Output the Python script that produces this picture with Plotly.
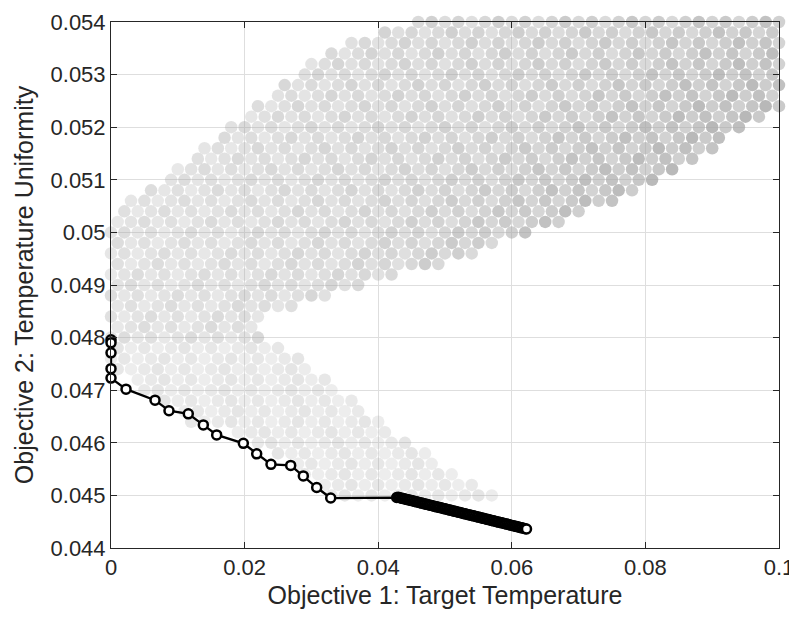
import plotly.graph_objects as go

# ---------------- data ----------------
# Pareto front (black line with open circles)
front_x = [0.0, 0.0, 0.0, 0.0, 0.0,
           0.00225, 0.00659, 0.00868, 0.01157, 0.01382, 0.01582, 0.01981, 0.02181,
           0.02395, 0.02690, 0.02879, 0.03079, 0.03289, 0.04277,
           0.04300, 0.04325, 0.04350, 0.04375, 0.04400, 0.04425, 0.04450, 0.04475,
           0.04500, 0.04525, 0.04550, 0.04575, 0.04600, 0.04625, 0.04650, 0.04675,
           0.04700, 0.04725, 0.04750, 0.04775, 0.04800, 0.04825, 0.04850, 0.04875,
           0.04900, 0.04925, 0.04950, 0.04975, 0.05000, 0.05025, 0.05050, 0.05075,
           0.05100, 0.05125, 0.05150, 0.05175, 0.05200, 0.05225, 0.05250, 0.05275,
           0.05300, 0.05325, 0.05350, 0.05375, 0.05400, 0.05425, 0.05450, 0.05475,
           0.05500, 0.05525, 0.05550, 0.05575, 0.05600, 0.05625, 0.05650, 0.05675,
           0.05700, 0.05725, 0.05750, 0.05775, 0.05800, 0.05825, 0.05850, 0.05875,
           0.05900, 0.05925, 0.05950, 0.05975, 0.06000, 0.06025, 0.06050, 0.06075,
           0.06100, 0.06125, 0.06150, 0.06175, 0.06200, 0.06220]
front_y = [0.04796, 0.04790, 0.04771, 0.04741, 0.04723,
           0.04702, 0.04681, 0.04661, 0.04655, 0.04634, 0.04615, 0.04599, 0.04579,
           0.04559, 0.04557, 0.04537, 0.04515, 0.04495, 0.04496,
           0.044964, 0.044956, 0.044948, 0.044940, 0.044932, 0.044924, 0.044917, 0.044909,
           0.044901, 0.044893, 0.044885, 0.044877, 0.044870, 0.044862, 0.044854, 0.044846,
           0.044838, 0.044830, 0.044823, 0.044815, 0.044807, 0.044799, 0.044791, 0.044783,
           0.044776, 0.044768, 0.044760, 0.044752, 0.044744, 0.044736, 0.044728, 0.044721,
           0.044713, 0.044705, 0.044697, 0.044689, 0.044681, 0.044674, 0.044666, 0.044658,
           0.044650, 0.044642, 0.044634, 0.044627, 0.044619, 0.044611, 0.044603, 0.044595,
           0.044587, 0.044580, 0.044572, 0.044564, 0.044556, 0.044548, 0.044540, 0.044532,
           0.044525, 0.044517, 0.044509, 0.044501, 0.044493, 0.044485, 0.044478, 0.044470,
           0.044462, 0.044454, 0.044446, 0.044438, 0.044430, 0.044423, 0.044415, 0.044407,
           0.044399, 0.044391, 0.044383, 0.044376, 0.044368, 0.044362]

# Population cloud, read row by row (y value of each row, x positions in units of 1e-3)
cloud_row_y = [0.0540, 0.0538, 0.0536, 0.0534, 0.0532, 0.0530, 0.0528, 0.0526, 0.0524, 0.0522,
               0.0520, 0.0518, 0.0516, 0.0514, 0.0512, 0.0510, 0.0508, 0.0506, 0.0504, 0.0502,
               0.0500, 0.0498, 0.0496, 0.0494, 0.0492, 0.0490, 0.0488, 0.0486, 0.0484, 0.0482,
               0.0480, 0.0478, 0.0476, 0.0474, 0.0472, 0.0470, 0.0468, 0.0466, 0.0464, 0.0462,
               0.0460, 0.0458, 0.0456, 0.0454, 0.0452, 0.0450]
cloud_row_x_milli = [
    [46, 48, 50, 52, 54, 56, 58, 60, 62, 64, 66, 68, 70, 72, 74, 76, 78, 80, 82, 84, 86, 88, 90, 92, 94, 96, 98, 100],
    [41, 43, 45, 47, 49, 51, 53, 55, 57, 59, 61, 63, 65, 67, 69, 71, 73, 75, 77, 79, 81, 83, 85, 87, 89, 91, 93, 95, 97, 99],
    [36, 38, 40, 42, 44, 46, 48, 50, 52, 54, 56, 58, 60, 62, 64, 66, 68, 70, 72, 74, 76, 78, 80, 82, 84, 86, 88, 90, 92, 94, 96, 98, 100],
    [33, 35, 37, 39, 41, 43, 45, 47, 49, 51, 53, 55, 57, 59, 61, 63, 65, 67, 69, 71, 73, 75, 77, 79, 81, 83, 85, 87, 89, 91, 93, 95, 97, 99],
    [30, 32, 34, 36, 38, 40, 42, 44, 46, 48, 50, 52, 54, 56, 58, 60, 62, 64, 66, 68, 70, 72, 74, 76, 78, 80, 82, 84, 86, 88, 90, 92, 94, 96, 98, 100],
    [29, 31, 33, 35, 37, 39, 41, 43, 45, 47, 49, 51, 53, 55, 57, 59, 61, 63, 65, 67, 69, 71, 73, 75, 77, 79, 81, 83, 85, 87, 89, 91, 93, 95, 97, 99],
    [26, 28, 30, 32, 34, 36, 38, 40, 42, 44, 46, 48, 50, 52, 54, 56, 58, 60, 62, 64, 66, 68, 70, 72, 74, 76, 78, 80, 82, 84, 86, 88, 90, 92, 94, 96, 98, 100],
    [25, 27, 29, 31, 33, 35, 37, 39, 41, 43, 45, 47, 49, 51, 53, 55, 57, 59, 61, 63, 65, 67, 69, 71, 73, 75, 77, 79, 81, 83, 85, 87, 89, 91, 93, 95, 97, 99],
    [22, 24, 26, 28, 30, 32, 34, 36, 38, 40, 42, 44, 46, 48, 50, 52, 54, 56, 58, 60, 62, 64, 66, 68, 70, 72, 74, 76, 78, 80, 82, 84, 86, 88, 90, 92, 94, 96, 98, 100],
    [21, 23, 25, 27, 29, 31, 33, 35, 37, 39, 41, 43, 45, 47, 49, 51, 53, 55, 57, 59, 61, 63, 65, 67, 69, 71, 73, 75, 77, 79, 81, 83, 85, 87, 89, 91, 93, 95, 97],
    [18, 20, 22, 24, 26, 28, 30, 32, 34, 36, 38, 40, 42, 44, 46, 48, 50, 52, 54, 56, 58, 60, 62, 64, 66, 68, 70, 72, 74, 76, 78, 80, 82, 84, 86, 88, 90, 92, 94],
    [17, 19, 21, 23, 25, 27, 29, 31, 33, 35, 37, 39, 41, 43, 45, 47, 49, 51, 53, 55, 57, 59, 61, 63, 65, 67, 69, 71, 73, 75, 77, 79, 81, 83, 85, 87, 89, 91],
    [14, 16, 18, 20, 22, 24, 26, 28, 30, 32, 34, 36, 38, 40, 42, 44, 46, 48, 50, 52, 54, 56, 58, 60, 62, 64, 66, 68, 70, 72, 74, 76, 78, 80, 82, 84, 86, 88, 90],
    [13, 15, 17, 19, 21, 23, 25, 27, 29, 31, 33, 35, 37, 39, 41, 43, 45, 47, 49, 51, 53, 55, 57, 59, 61, 63, 65, 67, 69, 71, 73, 75, 77, 79, 81, 83, 85, 87],
    [10, 12, 14, 16, 18, 20, 22, 24, 26, 28, 30, 32, 34, 36, 38, 40, 42, 44, 46, 48, 50, 52, 54, 56, 58, 60, 62, 64, 66, 68, 70, 72, 74, 76, 78, 80, 82, 84],
    [9, 11, 13, 15, 17, 19, 21, 23, 25, 27, 29, 31, 33, 35, 37, 39, 41, 43, 45, 47, 49, 51, 53, 55, 57, 59, 61, 63, 65, 67, 69, 71, 73, 75, 77, 79, 81],
    [6, 8, 10, 12, 14, 16, 18, 20, 22, 24, 26, 28, 30, 32, 34, 36, 38, 40, 42, 44, 46, 48, 50, 52, 54, 56, 58, 60, 62, 64, 66, 68, 70, 72, 74, 76, 78],
    [3, 5, 7, 9, 11, 13, 15, 17, 19, 21, 23, 25, 27, 29, 31, 33, 35, 37, 39, 41, 43, 45, 47, 49, 51, 53, 55, 57, 59, 61, 63, 65, 67, 69, 71, 73, 75],
    [2, 4, 6, 8, 10, 12, 14, 16, 18, 20, 22, 24, 26, 28, 30, 32, 34, 36, 38, 40, 42, 44, 46, 48, 50, 52, 54, 56, 58, 60, 62, 64, 66, 68, 70],
    [1, 3, 5, 7, 9, 11, 13, 15, 17, 19, 21, 23, 25, 27, 29, 31, 33, 35, 37, 39, 41, 43, 45, 47, 49, 51, 53, 55, 57, 59, 61, 63, 65, 67],
    [0, 2, 4, 6, 8, 10, 12, 14, 16, 18, 20, 22, 24, 26, 28, 30, 32, 34, 36, 38, 40, 42, 44, 46, 48, 50, 52, 54, 56, 58, 60, 62],
    [1, 3, 5, 7, 9, 11, 13, 15, 17, 19, 21, 23, 25, 27, 29, 31, 33, 35, 37, 39, 41, 43, 45, 47, 49, 51, 53, 55, 57],
    [0, 2, 4, 6, 8, 10, 12, 14, 16, 18, 20, 22, 24, 26, 28, 30, 32, 34, 36, 38, 40, 42, 44, 46, 48, 50, 52, 54],
    [1, 3, 5, 7, 9, 11, 13, 15, 17, 19, 21, 23, 25, 27, 29, 31, 33, 35, 37, 39, 41, 43, 45, 47, 49],
    [0, 2, 4, 6, 8, 10, 12, 14, 16, 18, 20, 22, 24, 26, 28, 30, 32, 34, 36, 38, 40, 42],
    [1, 3, 5, 7, 9, 11, 13, 15, 17, 19, 21, 23, 25, 27, 29, 31, 33, 35, 37],
    [0, 2, 4, 6, 8, 10, 12, 14, 16, 18, 20, 22, 24, 26, 28, 30, 32],
    [1, 3, 5, 7, 9, 11, 13, 15, 17, 19, 21, 23, 25, 27],
    [0, 2, 4, 6, 8, 10, 12, 14, 16, 18, 20, 22],
    [1, 3, 5, 7, 9, 11, 13, 15, 17, 19, 21],
    [0, 2, 4, 6, 8, 10, 12, 14, 16, 18, 20, 22],
    [1, 3, 5, 7, 9, 11, 13, 15, 17, 19, 21, 23, 25],
    [0, 2, 4, 6, 8, 10, 12, 14, 16, 18, 20, 22, 24, 26, 28],
    [1, 3, 5, 7, 9, 11, 13, 15, 17, 19, 21, 23, 25, 27, 29],
    [4, 6, 8, 10, 12, 14, 16, 18, 20, 22, 24, 26, 28, 30, 32],
    [5, 7, 9, 11, 13, 15, 17, 19, 21, 23, 25, 27, 29, 31, 33],
    [8, 10, 12, 14, 16, 18, 20, 22, 24, 26, 28, 30, 32, 34, 36],
    [11, 13, 15, 17, 19, 21, 23, 25, 27, 29, 31, 33, 35, 37],
    [12, 14, 16, 18, 20, 22, 24, 26, 28, 30, 32, 34, 36, 38, 40],
    [19, 21, 23, 25, 27, 29, 31, 33, 35, 37, 39, 41],
    [22, 24, 26, 28, 30, 32, 34, 36, 38, 40, 42, 44],
    [25, 27, 29, 31, 33, 35, 37, 39, 41, 43, 45, 47],
    [28, 30, 32, 34, 36, 38, 40, 42, 44, 46, 48],
    [29, 31, 33, 35, 37, 39, 41, 43, 45, 47, 49, 51],
    [32, 34, 36, 38, 40, 42, 44, 46, 48, 50, 52, 54],
    [33, 35, 37, 39, 41, 43, 45, 47, 49, 51, 53, 55, 57],
]

x_tick_vals = [0, 0.02, 0.04, 0.06, 0.08, 0.1]
x_tick_text = ["0", "0.02", "0.04", "0.06", "0.08", "0.1"]
y_tick_vals = [0.044, 0.045, 0.046, 0.047, 0.048, 0.049, 0.050, 0.051, 0.052, 0.053, 0.054]
y_tick_text = ["0.044", "0.045", "0.046", "0.047", "0.048", "0.049", "0.05",
               "0.051", "0.052", "0.053", "0.054"]

# ---------------- build ----------------
def clip01(v):
    return min(max(v, 0.0), 1.0)

streak = [1.0, 1.22, 0.9, 1.1, 0.82]   # mild shade variation along slanted strands
cloud_x, cloud_y, cloud_colors = [], [], []
for r, (yv, xs) in enumerate(zip(cloud_row_y, cloud_row_x_milli)):
    for c, xm in enumerate(xs):
        xv = xm * 1e-3
        cloud_x.append(xv)
        cloud_y.append(yv)
        if yv < 0.0479:
            a = 0.24
        else:
            t = clip01((xv - 0.01) / 0.08)
            a = 0.31 + 0.22 * t
            edge = 0.04934 + 0.0587 * (xv - 0.0473)
            d = yv - edge
            a += 0.12 * clip01((xv - 0.035) / 0.035) * clip01(1.0 - d / 0.0022)
        a *= streak[(r + c) % 5]
        cloud_colors.append("rgba(165,165,165,%.3f)" % min(a, 0.8))

fig = go.Figure()
fig.add_trace(go.Scatter(
    x=cloud_x, y=cloud_y, mode="markers",
    marker=dict(size=12.5, color=cloud_colors, line=dict(width=0)),
    cliponaxis=False, hoverinfo="skip", showlegend=False,
))
fig.add_trace(go.Scatter(
    x=front_x, y=front_y, mode="lines+markers",
    line=dict(color="black", width=2.3),
    marker=dict(symbol="circle", size=9, color="white",
                line=dict(color="black", width=2.5)),
    cliponaxis=False, showlegend=False,
))

font_family = "Liberation Sans, Arial, Helvetica, sans-serif"
axis_common = dict(
    showline=True, linecolor="#262626", linewidth=1, mirror="ticks",
    ticks="inside", ticklen=6, tickwidth=1, tickcolor="#262626",
    showgrid=True, gridcolor="#dedede", gridwidth=1, zeroline=False,
    tickfont=dict(size=22, color="#262626", family=font_family),
    automargin=False,
)
# the page adds an 8 px body margin, so the figure is drawn 8 px in and 8 px smaller
fig.update_layout(
    width=789, height=610,
    margin=dict(l=103, r=18, t=14, b=70),
    paper_bgcolor="white", plot_bgcolor="white",
    font=dict(family=font_family, color="#262626"),
    showlegend=False,
    xaxis=dict(range=[0, 0.1], tickvals=x_tick_vals, ticktext=x_tick_text,
               title=dict(text="Objective 1: Target Temperature",
                          font=dict(size=25, color="#262626", family=font_family),
                          standoff=7),
               **axis_common),
    yaxis=dict(range=[0.044, 0.054], tickvals=y_tick_vals, ticktext=y_tick_text,
               title=dict(text="Objective 2: Temperature Uniformity",
                          font=dict(size=25, color="#262626", family=font_family),
                          standoff=9),
               **axis_common),
)

fig.write_html("out.html")
